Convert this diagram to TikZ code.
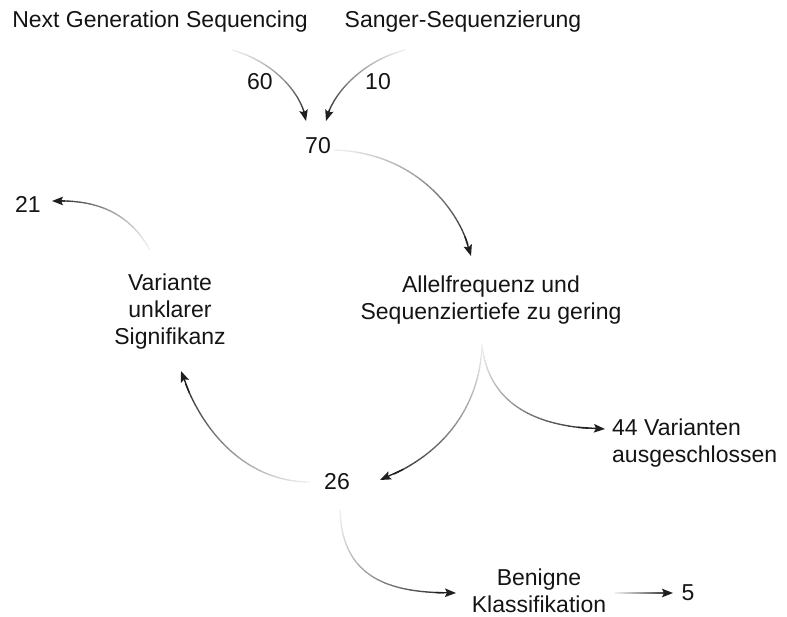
\documentclass[tikz,border=0pt]{standalone}
\usepackage{fontspec}
\setmainfont{Liberation Sans}
\usetikzlibrary{arrows.meta}
\tikzset{
  lbl/.style={font=\fontsize{23}{27}\selectfont, inner sep=0pt, align=center, text=black!92},
  conn/.style={line width=1.35pt, line cap=round},
  tipstyle/.style={-{Stealth[length=11pt,width=8.5pt,inset=2pt]}}
}
\newcommand\gcurve[4]{%
  \path (#1) .. controls (#2) and (#3) .. (#4)
    \foreach \k [evaluate=\k as \t using \k/40] in {0,...,40}{ coordinate[pos=\t] (gc\k) };
  \foreach \k [evaluate=\k as \c using int(5+83*(\k/40)^1.1), evaluate=\k as \j using int(\k-1)] in {1,...,37}{
    \draw[conn, black!\c] (gc\j) -- (gc\k);
  }
  \draw[conn, black!88, tipstyle] (gc35) -- (gc40);
}
\begin{document}
\begin{tikzpicture}[x=1pt,y=-1pt]
\useasboundingbox (0,0) rectangle (787,617);
% nodes
\node[lbl] (ngs) at (160,22) {Next Generation Sequencing};
\node[lbl] (sanger) at (463,22) {Sanger-Sequenzierung};
\node[lbl] (n60) at (260,82) {60};
\node[lbl] (n10) at (378,82) {10};
\node[lbl] (n70) at (318,146) {70};
\node[lbl] (allel) at (491,300) {Allelfrequenz und\\Sequenziertiefe zu gering};
\node[lbl, align=left, anchor=west] (aus) at (612,443) {44 Varianten\\ausgeschlossen};
\node[lbl] (n26) at (337,482) {26};
\node[lbl] (vus) at (170,312) {Variante\\unklarer\\Signifikanz};
\node[lbl] (n21) at (28,204) {21};
\node[lbl] (ben) at (539,591) {Benigne\\Klassifikation};
\node[lbl] (n5) at (688,593) {5};
% connector end points
\coordinate (ngsout) at (232,50);
\coordinate (sangerout) at (405,50);
\coordinate (in70a) at (306,121);
\coordinate (in70b) at (326,121);
\coordinate (out70) at (334,150);
\coordinate (allelin) at (471,256);
\coordinate (allelout) at (482,345);
\coordinate (in26) at (380,480);
\coordinate (ausin) at (605,429);
\coordinate (out26l) at (310,482);
\coordinate (vusin) at (181,371);
\coordinate (vusout) at (150,250);
\coordinate (in21) at (52,201);
\coordinate (out26d) at (340,510);
\coordinate (benin) at (456,593);
\coordinate (benout) at (615,593);
\coordinate (in5) at (673,593);
% connectors
\gcurve{ngsout}{275,62}{303,95}{in70a}
\gcurve{sangerout}{365,60}{332,92}{in70b}
\gcurve{out70}{410,152}{460,205}{allelin}
\gcurve{allelout}{480,405}{445,455}{in26}
\gcurve{allelout}{488,400}{530,428}{ausin}
\gcurve{out26l}{245,482}{200,430}{vusin}
\gcurve{vusout}{125,205}{85,200}{in21}
\gcurve{out26d}{342,585}{400,593}{benin}
\gcurve{benout}{635,593}{655,593}{in5}
\end{tikzpicture}
\end{document}
